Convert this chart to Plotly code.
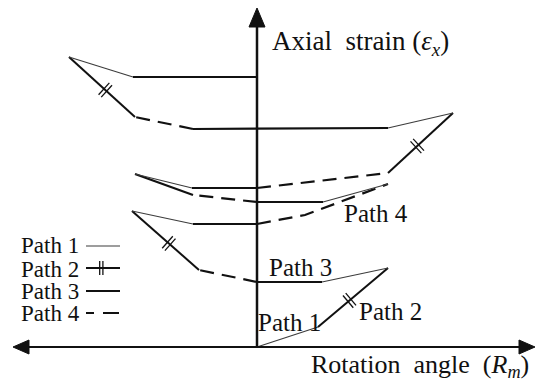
import math
import plotly.graph_objects as go

# Loading history: rotation angle (R_m) vs axial strain (eps_x), schematic units
rm = [0, 61, 131, 65, 0, -58, -125, -64, 0, 48, 131, 66, 0, -64, -122,
      -65, 0, 131, 196, 131, -64, -122, -188, -124, 0]
ex = [0, 20, 79, 65, 65, 77, 136, 123, 123, 132, 163, 145, 145, 152, 173,
      159, 159, 174, 234, 219, 218, 230, 290, 270, 270]
# path type of each segment between consecutive points
seg_path = [1, 2, 1, 3, 4, 2, 1, 3, 4, 4, 1, 3, 4, 3, 1, 3, 4, 2, 1, 3, 4, 2, 1, 3]

path_names = ["Path 1", "Path 2", "Path 3", "Path 4"]

FONT = "Liberation Serif, Times New Roman, serif"
INK = "#111111"
STYLE = {
    1: dict(width=1.2, color="#3c3c3c", dash="solid"),
    2: dict(width=2.0, color=INK, dash="solid"),
    3: dict(width=2.2, color=INK, dash="solid"),
    4: dict(width=2.2, color=INK, dash="14px,8px"),
}

fig = go.Figure()

# group consecutive segments of the same path into one polyline
runs = []
start = 0
for i in range(1, len(seg_path) + 1):
    if i == len(seg_path) or seg_path[i] != seg_path[start]:
        runs.append((seg_path[start], start, i))
        start = i
for p, a, b in runs:
    fig.add_trace(go.Scatter(x=rm[a:b + 1], y=ex[a:b + 1], mode="lines",
                             line=STYLE[p], hoverinfo="skip", showlegend=False))


def double_tick(x0, y0, x1, y1, t=0.45, half=8, gap=1.8):
    """Two short strokes across a segment (Path 2 marker)."""
    L = math.hypot(x1 - x0, y1 - y0)
    dx, dy = (x1 - x0) / L, (y1 - y0) / L
    nx, ny = -dy, dx
    px, py = x0 + t * (x1 - x0), y0 + t * (y1 - y0)
    xs, ys = [], []
    for s in (-gap, gap):
        cx, cy = px + s * dx, py + s * dy
        xs += [cx - half * nx, cx + half * nx, None]
        ys += [cy - half * ny, cy + half * ny, None]
    return xs, ys


tx, ty = [], []
for i, p in enumerate(seg_path):
    if p == 2:
        xs, ys = double_tick(rm[i], ex[i], rm[i + 1], ex[i + 1])
        tx += xs
        ty += ys
fig.add_trace(go.Scatter(x=tx, y=ty, mode="lines", line=dict(width=1.3, color=INK),
                         hoverinfo="skip", showlegend=False))

# key at the left
key_x0, key_x1 = -171, -137
key_y = [101, 79, 56, 34]
key_text_y = [102, 78, 56, 34]
for k, name in enumerate(path_names):
    p = k + 1
    st = dict(STYLE[p])
    if p == 4:
        st["dash"] = "8px,9px,16px,9px"
    fig.add_trace(go.Scatter(x=[key_x0, key_x1], y=[key_y[k], key_y[k]], mode="lines",
                             line=st, hoverinfo="skip", showlegend=False))
    fig.add_annotation(x=-237, y=key_text_y[k], text=name, showarrow=False,
                       xanchor="left", yanchor="middle", borderpad=0,
                       font=dict(family=FONT, size=23, color=INK))
kx, ky = double_tick(key_x0, key_y[1], key_x1, key_y[1], t=0.45, half=7, gap=1.6)
fig.add_trace(go.Scatter(x=kx, y=ky, mode="lines", line=dict(width=1.3, color=INK),
                         hoverinfo="skip", showlegend=False))

# labels along the curves
labels = [("Path 1", 0, 25), ("Path 2", 101, 36), ("Path 3", 11, 80), ("Path 4", 86, 134)]
for text, lx, ly in labels:
    fig.add_annotation(x=lx, y=ly, text=text, showarrow=False, xanchor="left",
                       yanchor="middle", borderpad=0,
                       font=dict(family=FONT, size=25, color=INK))

# axis titles
fig.add_annotation(x=14, y=304, text="Axial\u00a0\u00a0strain (<i>ε</i><sub><i>x</i></sub>)",
                   showarrow=False, xanchor="left", yanchor="middle", borderpad=0,
                   font=dict(family=FONT, size=27, color=INK))
fig.add_annotation(x=53, y=-19, text="Rotation\u00a0\u00a0angle\u00a0\u00a0(<i>R</i><sub><i>m</i></sub>)",
                   showarrow=False, xanchor="left", yanchor="middle", borderpad=0,
                   font=dict(family=FONT, size=26, color=INK))

# coordinate axes with arrowheads
shapes = [
    dict(type="line", x0=0, y0=0, x1=0, y1=322, line=dict(color=INK, width=2.5)),
    dict(type="path", path="M -8,320 L 0,339 L 8,320 Z", fillcolor=INK, line=dict(color=INK, width=1)),
    dict(type="line", x0=-230, y0=0, x1=264, y1=0, line=dict(color=INK, width=2.2)),
    dict(type="path", path="M 262,-7 L 278,0 L 262,7 Z", fillcolor=INK, line=dict(color=INK, width=1)),
    dict(type="path", path="M -228,-7 L -244,0 L -228,7 Z", fillcolor=INK, line=dict(color=INK, width=1)),
]
for s in shapes:
    s.update(xref="x", yref="y", layer="above")
fig.update_layout(shapes=shapes)

fig.update_layout(
    width=539, height=382, autosize=False,
    margin=dict(l=0, r=0, t=0, b=0, pad=0),
    paper_bgcolor="white", plot_bgcolor="white",
    xaxis=dict(range=[-257, 282], visible=False, fixedrange=True),
    yaxis=dict(range=[-35, 347], visible=False, fixedrange=True),
    showlegend=False,
)

fig.write_html("out.html")
